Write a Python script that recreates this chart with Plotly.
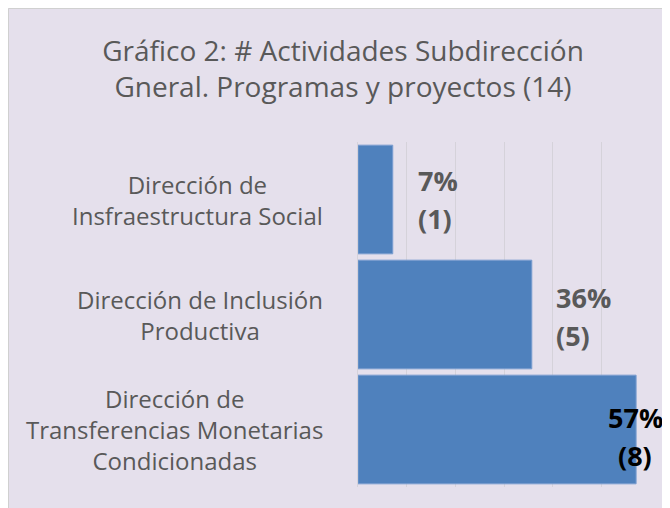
import plotly.graph_objects as go

# ---- data ----
categories = [
    "Dirección de<br>Insfraestructura Social",
    "Dirección de Inclusión<br>Productiva",
    "Dirección de<br>Transferencias Monetarias<br>Condicionadas",
]
counts = [1, 5, 8]
shares = [1 / 14, 5 / 14, 8 / 14]
pct_labels = ["7%", "36%", "57%"]
title_text = "Gráfico 2: # Actividades Subdirección<br>Gneral. Programas y proyectos (14)"
x_ticks = [0, 0.1, 0.2, 0.3, 0.4, 0.5, 0.6]

# ---- style ----
W, H = 670, 508
ML, MR, MT, MB = 350, 28, 134, 29
PW, PH = W - ML - MR, H - MT - MB
BG = "#E5E0EC"
BAR = "#4F81BD"
GRID = "#D5D2DA"
TXT = "#595959"
FONT = "Open Sans"

label_colors = [TXT, TXT, "#000000"]
label_anchor = ["left", "left", "center"]
pct_xshift = [23, 22, -1]
cnt_xshift = [23, 22, -1]
pct_yshift = [19, 17, 12]
cnt_yshift = [-19, -21, -26]

fig = go.Figure()
fig.add_trace(go.Bar(
    y=categories,
    x=shares,
    orientation="h",
    marker=dict(color=BAR, line=dict(color="#7A9DD0", width=1)),
    hoverinfo="skip",
))

annotations = []
# category labels (centered multi-line, right-anchored)
for c in categories:
    annotations.append(dict(
        x=(317 - ML) / PW, xref="paper", y=c, yref="y",
        text=c, showarrow=False, xanchor="right", align="center",
        font=dict(family=FONT, size=24, color=TXT),
    ))
# data labels
for i, c in enumerate(categories):
    for txt, dx, dy in ((pct_labels[i], pct_xshift[i], pct_yshift[i]),
                        (f"({counts[i]})", cnt_xshift[i], cnt_yshift[i])):
        annotations.append(dict(
            x=shares[i], xref="x", y=c, yref="y",
            text=f"<b>{txt}</b>", showarrow=False,
            xanchor=label_anchor[i], yanchor="middle",
            xshift=dx, yshift=dy,
            font=dict(family=FONT, size=27, color=label_colors[i]),
        ))

fig.update_layout(
    width=W, height=H,
    margin=dict(l=ML, r=MR, t=MT, b=MB, pad=0),
    paper_bgcolor=BG,
    plot_bgcolor="rgba(0,0,0,0)",
    showlegend=False,
    bargap=0.055,
    title=dict(
        text=title_text, x=0.5, xanchor="center", xref="container",
        y=1 - 53 / H, yanchor="middle", yref="container",
        font=dict(family=FONT, size=28, color=TXT),
    ),
    xaxis=dict(
        range=[0, 0.6], tickvals=x_ticks, showticklabels=False,
        showgrid=True, gridcolor=GRID, gridwidth=1, zeroline=False,
        showline=False, fixedrange=True,
    ),
    yaxis=dict(
        categoryorder="array", categoryarray=categories[::-1],
        showticklabels=False, showgrid=False, zeroline=False,
        showline=True, linecolor=GRID, linewidth=1, ticks="",
        range=[-0.5, 2.5],
    ),
    annotations=annotations,
    shapes=[dict(
        type="rect", xref="paper", yref="paper", layer="below",
        x0=(0.5 - ML) / PW, x1=(W + 5 - ML) / PW,
        y0=-(MB + 5) / PH, y1=(H - 0.5 - MB) / PH,
        fillcolor="rgba(0,0,0,0)", line=dict(width=1, color="#D0D0D0"),
    )],
)

fig.write_html("out.html")
